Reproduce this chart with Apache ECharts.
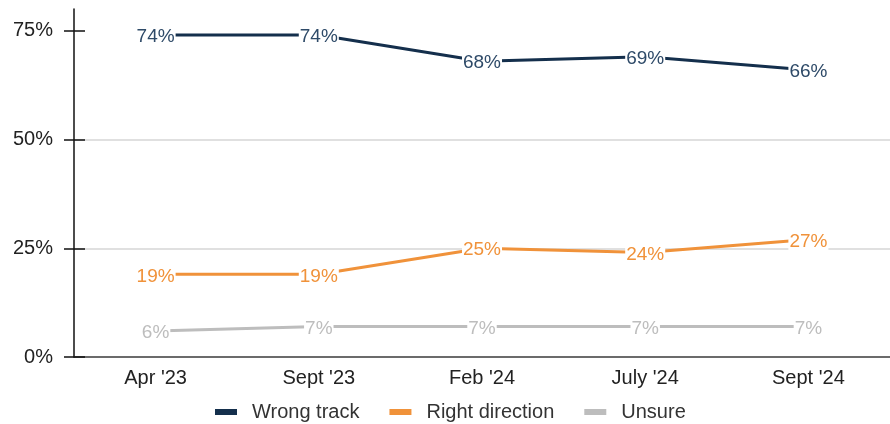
<!DOCTYPE html>
<html>
<head>
<meta charset="utf-8">
<script src="https://cdn.jsdelivr.net/npm/echarts@6/dist/echarts.min.js"></script>
<style>
  html, body { margin: 0; padding: 0; background: #fff; }
  #chart { width: 890px; height: 424px; }
</style>
</head>
<body>
<div id="chart"></div>
<script>
// survey waves
const periods = ["Apr '23", "Sept '23", "Feb '24", "July '24", "Sept '24"]
const wrongTrack = [74, 74, 68, 69, 66]
const rightDirection = [19, 19, 25, 24, 27]
const unsure = [6, 7, 7, 7, 7]
const yTicks = [0, 25, 50, 75]

const FONT = 'Liberation Sans, Arial, sans-serif'

function makeSeries(name, data, color, labelColor) {
  return {
    name: name,
    type: 'line',
    data: data,
    symbol: 'circle',
    symbolSize: 2,
    lineStyle: { color: color, width: 3 },
    itemStyle: { color: color },
    label: {
      show: true,
      position: 'inside',
      offset: [0, 2],
      formatter: '{c}%',
      color: labelColor,
      fontFamily: FONT,
      fontSize: 19,
      backgroundColor: '#fff',
      padding: [0, 1]
    },
    emphasis: { disabled: true }
  }
}

const chart = echarts.init(document.getElementById('chart'))

chart.setOption({
  animation: false,
  grid: { left: 74, right: -14, top: 9, bottom: 67 },
  legend: {
    top: 397,
    left: 210,
    itemWidth: 22,
    itemHeight: 6,
    itemGap: 30,
    icon: 'rect',
    textStyle: { fontFamily: FONT, fontSize: 20, color: '#333', padding: [0, 0, 0, 10] },
    data: ['Wrong track', 'Right direction', 'Unsure']
  },
  xAxis: {
    type: 'category',
    data: periods,
    boundaryGap: true,
    axisLine: { lineStyle: { color: '#444', width: 1.5 } },
    axisTick: { show: false },
    axisLabel: { fontFamily: FONT, fontSize: 20, color: '#222', margin: 11 }
  },
  yAxis: [{
    type: 'value',
    position: 'left',
    min: 0,
    max: 80,
    interval: 25,
    axisLine: { show: true, lineStyle: { color: '#111', width: 1.5 } },
    axisTick: { show: true, length: 10, customValues: yTicks, lineStyle: { color: '#111', width: 1.5 } },
    axisLabel: {
      fontFamily: FONT,
      fontSize: 20,
      color: '#222',
      margin: 21,
      customValues: yTicks,
      formatter: '{value}%'
    },
    splitLine: { showMaxLine: false, lineStyle: { color: '#d6d6d6', width: 1.5 } }
  }, {
    // inner half of the crossing tick marks
    type: 'value',
    position: 'left',
    min: 0,
    max: 80,
    interval: 25,
    axisLine: { show: false },
    axisTick: { show: true, inside: true, length: 11, customValues: yTicks, lineStyle: { color: '#111', width: 1.5 } },
    axisLabel: { show: false },
    splitLine: { show: false }
  }],
  series: [
    makeSeries('Wrong track', wrongTrack, '#142f4c', '#2e4a68'),
    makeSeries('Right direction', rightDirection, '#f0923a', '#f0923a'),
    makeSeries('Unsure', unsure, '#bdbdbd', '#bdbdbd')
  ]
})
</script>
</body>
</html>
